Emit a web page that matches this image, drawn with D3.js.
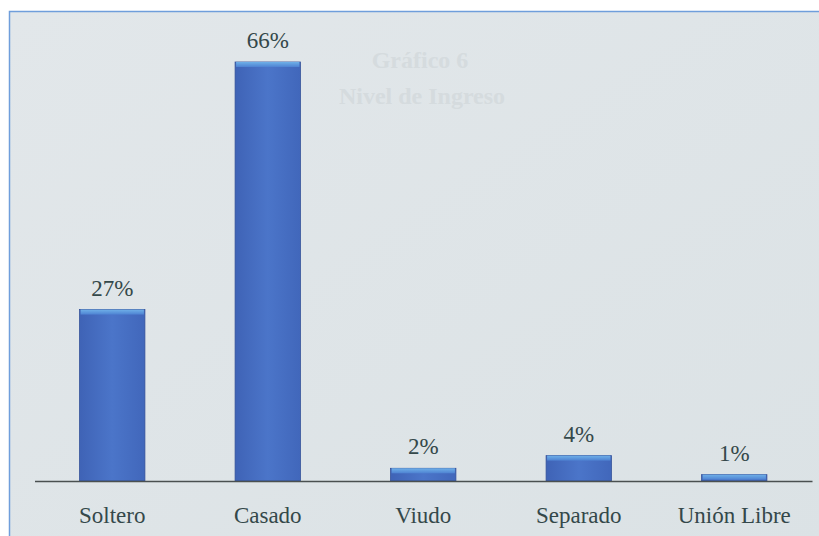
<!DOCTYPE html>
<html><head><meta charset="utf-8">
<script src="https://cdn.jsdelivr.net/npm/d3@7"></script>
<style>
html,body{margin:0;padding:0;background:#fff;}
svg{display:block;}
text{font-family:'Liberation Serif','Times New Roman',serif;}
</style></head>
<body>
<script>
const categories = ["Soltero", "Casado", "Viudo", "Separado", "Unión Libre"];
const values = [27, 66, 2, 4, 1];
const valueLabels = ["27%", "66%", "2%", "4%", "1%"];

const W = 819, H = 536;
const SERIF = "'Liberation Serif','Times New Roman',serif";
const svg = d3.select("body").append("svg").attr("width", W).attr("height", H);

const defs = svg.append("defs");
const g1 = defs.append("linearGradient").attr("id","barGrad").attr("x1","0").attr("x2","1").attr("y1","0").attr("y2","0");
g1.append("stop").attr("offset","0%").attr("stop-color","#3f63b6");
g1.append("stop").attr("offset","50%").attr("stop-color","#4b75c9");
g1.append("stop").attr("offset","100%").attr("stop-color","#4167bb");
const g2 = defs.append("linearGradient").attr("id","capGrad").attr("x1","0").attr("x2","0").attr("y1","0").attr("y2","1");
g2.append("stop").attr("offset","0%").attr("stop-color","#6fb0e8");
g2.append("stop").attr("offset","100%").attr("stop-color","#4e82d2");
const bgGrad = defs.append("linearGradient").attr("id","bgGrad").attr("x1","0").attr("x2","1").attr("y1","0").attr("y2","1");
bgGrad.append("stop").attr("offset","0%").attr("stop-color","#e2e7ea");
bgGrad.append("stop").attr("offset","100%").attr("stop-color","#dbe2e5");

// frame / background
svg.append("rect").attr("x", 9.5).attr("y", 11.5).attr("width", W).attr("height", H)
  .attr("fill", "url(#bgGrad)").attr("stroke", "#6f9edb").attr("stroke-width", 1.5);

// faint bleed-through text from scanned page
const ghost = svg.append("g").style("font-family", SERIF).attr("font-weight","bold")
  .attr("font-size", 24).attr("fill","#d5dbde").attr("text-anchor","middle");
ghost.append("text").attr("x", 420).attr("y", 68).style("font-family", SERIF).text("Gráfico 6");
ghost.append("text").attr("x", 422).attr("y", 104).style("font-family", SERIF).text("Nivel de Ingreso");

const x = d3.scaleBand().domain(categories).range([34.5, 812]).paddingInner(0.58).paddingOuter(0.29);
const y = d3.scaleLinear().domain([0, 66]).range([481, 62]);

const bars = svg.append("g");
bars.selectAll("rect.bar").data(values).join("rect").attr("class","bar")
  .attr("x", (d,i) => x(categories[i]))
  .attr("y", d => y(d))
  .attr("width", x.bandwidth())
  .attr("height", d => y(0) - y(d))
  .attr("fill", "url(#barGrad)")
  .attr("stroke", "#34519a").attr("stroke-width", 0.8);
bars.selectAll("rect.cap").data(values).join("rect").attr("class","cap")
  .attr("x", (d,i) => x(categories[i]) + 1)
  .attr("y", d => y(d))
  .attr("width", x.bandwidth() - 2)
  .attr("height", d => Math.min(5, y(0) - y(d)))
  .attr("fill", "url(#capGrad)");

// baseline axis
const axis = d3.axisBottom(x).tickSize(0).tickPadding(0);
const ax = svg.append("g").attr("transform", "translate(0,481)").call(axis);
ax.attr("font-family", null);
ax.select(".domain").attr("stroke", "#4a5050").attr("stroke-width", 1.5);
ax.selectAll(".tick text").style("font-family", SERIF).attr("font-size", 23)
  .attr("fill", "#34484a").attr("dy", 0).attr("y", 42);

// value labels
svg.append("g").selectAll("text").data(values).join("text")
  .attr("x", (d,i) => x(categories[i]) + x.bandwidth()/2)
  .attr("y", d => y(d) - 14)
  .attr("text-anchor","middle")
  .style("font-family", SERIF).attr("font-size", 23)
  .attr("fill", "#34484a")
  .text((d,i) => valueLabels[i]);
</script>
</body></html>
